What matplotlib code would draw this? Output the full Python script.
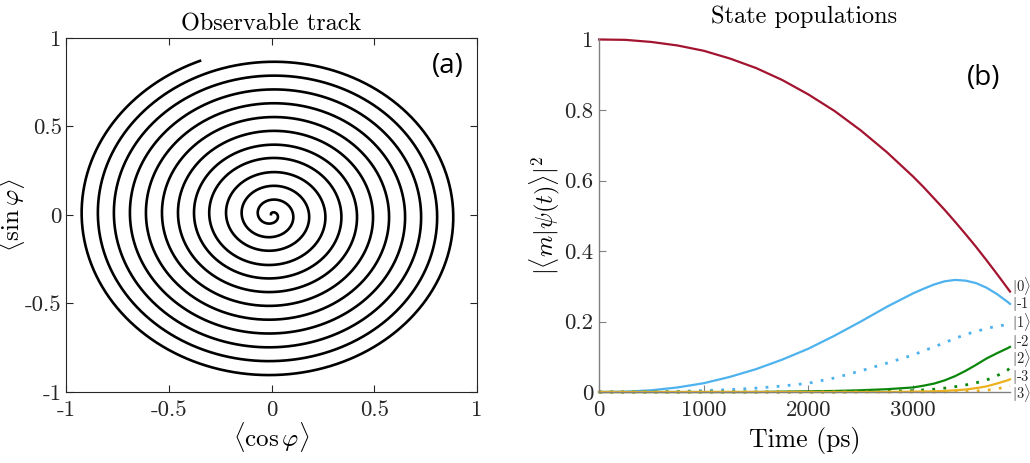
import numpy as np
import matplotlib
matplotlib.use('Agg')
import matplotlib.pyplot as plt

plt.rcParams['font.family'] = 'serif'
plt.rcParams['font.serif'] = ['cmr10']
plt.rcParams['mathtext.fontset'] = 'cm'
plt.rcParams['axes.unicode_minus'] = False
plt.rcParams['axes.formatter.use_mathtext'] = True

# (a) observable track: radius where the spiral crosses the negative x axis, one per turn
spiral_left_r = [0.066, 0.145, 0.221, 0.303, 0.377, 0.455, 0.533, 0.611, 0.689, 0.767, 0.845, 0.924]
spiral_start_r = 0.005
spiral_end_xy = (-0.348, 0.870)

# (b) state populations
time_ps = [0, 250, 500, 750, 1000, 1250, 1500, 1750, 2000, 2250, 2500, 2750, 3000,
           3100, 3200, 3300, 3400, 3500, 3600, 3700, 3800, 3900, 3925]
pop_0 = [1.0, 0.999, 0.993, 0.983, 0.968, 0.946, 0.919, 0.885, 0.844, 0.797, 0.742, 0.680, 0.611,
         0.581, 0.549, 0.517, 0.483, 0.448, 0.412, 0.374, 0.335, 0.295, 0.285]
pop_m1 = [0, 0.001, 0.005, 0.013, 0.025, 0.043, 0.065, 0.092, 0.123, 0.160, 0.200, 0.242, 0.280,
          0.293, 0.305, 0.314, 0.318, 0.316, 0.309, 0.296, 0.278, 0.256, 0.250]
pop_p1 = [0, 0, 0.001, 0.002, 0.004, 0.007, 0.011, 0.017, 0.025, 0.040, 0.060, 0.082, 0.105,
          0.117, 0.128, 0.140, 0.152, 0.163, 0.172, 0.180, 0.187, 0.191, 0.192]
pop_m2 = [0, 0, 0, 0, 0, 0, 0, 0.001, 0.002, 0.003, 0.005, 0.008, 0.013,
          0.018, 0.024, 0.033, 0.045, 0.060, 0.077, 0.095, 0.110, 0.124, 0.128]
pop_p2 = [0, 0, 0, 0, 0, 0, 0, 0, 0, 0, 0.001, 0.002, 0.004,
          0.006, 0.008, 0.011, 0.015, 0.020, 0.026, 0.034, 0.046, 0.062, 0.068]
pop_m3 = [0, 0, 0, 0, 0, 0, 0, 0, 0, 0, 0, 0, 0.001,
          0.0015, 0.002, 0.003, 0.005, 0.007, 0.011, 0.016, 0.024, 0.033, 0.036]
pop_p3 = [0, 0, 0, 0, 0, 0, 0, 0, 0, 0, 0, 0, 0,
          0, 0, 0.0005, 0.001, 0.002, 0.003, 0.005, 0.009, 0.015, 0.017]

ket_labels = [r'$|0\rangle$', r'$|$-$1\rangle$', r'$|1\rangle$', r'$|$-$2\rangle$',
              r'$|2\rangle$', r'$|$-$3\rangle$', r'$|3\rangle$']
ket_y = [0.300, 0.253, 0.199, 0.145, 0.097, 0.045, -0.003]

red = '#A2142F'
blue = '#4DB2EE'
green = '#0A870A'
orange = '#EDB120'

fig = plt.figure(figsize=(10.3, 4.63), dpi=100)

# ---- (a) spiral
ax1 = fig.add_axes([0.0641, 0.1533, 0.399, 0.765])
turn_r = np.array(spiral_left_r)
end_r = np.hypot(*spiral_end_xy)
end_theta = np.degrees(np.arctan2(spiral_end_xy[1], spiral_end_xy[0]))
knot_a = np.concatenate([[-300.0], 360.0 * np.arange(len(turn_r)),
                         [360.0 * (len(turn_r) - 1) + (180 - end_theta)]])
knot_r = np.concatenate([[spiral_start_r], turn_r, [end_r]])
a = np.linspace(knot_a[0], knot_a[-1], 6000)
r = np.interp(a, knot_a, knot_r)
theta = np.radians(180 - a)
ax1.plot(r * np.cos(theta), r * np.sin(theta), color='black', lw=1.9)

ax1.set_xlim(-1, 1)
ax1.set_ylim(-1, 1)
ticks = [-1, -0.5, 0, 0.5, 1]
ticklab = ['-1', '-0.5', '0', '0.5', '1']
ax1.set_xticks(ticks)
ax1.set_xticklabels(ticklab)
ax1.set_yticks(ticks)
ax1.set_yticklabels(ticklab)
ax1.tick_params(direction='in', top=True, right=True, length=5, width=0.8,
                labelsize=16.5, colors='#262626')
ax1.tick_params(axis='x', pad=6)
ax1.tick_params(axis='y', pad=3)
for s in ax1.spines.values():
    s.set_color('#262626')
    s.set_linewidth(0.8)
ax1.set_xlabel(r'$\langle\cos\varphi\rangle$', fontsize=18, labelpad=0)
ax1.set_ylabel(r'$\langle\sin\varphi\rangle$', fontsize=18)
ax1.yaxis.set_label_coords(-0.095, 0.5)
ax1.set_title('Observable track', fontsize=17.5, pad=5)
ax1.text(0.93, 0.92, '(a)', transform=ax1.transAxes, family='Open Sans',
         fontsize=20, ha='center', va='center')

# ---- (b) populations
ax2 = fig.add_axes([0.5816, 0.1533, 0.399, 0.7614])
t = np.array(time_ps)
dots = (0, (1, 3))
ax2.plot(t, pop_0, color=red, lw=1.6, clip_on=False)
ax2.plot(t, pop_m1, color=blue, lw=1.6, clip_on=False)
ax2.plot(t, pop_p1, color=blue, lw=2.0, ls=dots, clip_on=False)
ax2.plot(t, pop_m2, color=green, lw=1.6, clip_on=False)
ax2.plot(t, pop_p2, color=green, lw=2.0, ls=dots, clip_on=False)
ax2.plot(t, pop_m3, color=orange, lw=1.6, clip_on=False)
ax2.plot(t, pop_p3, color=orange, lw=2.0, ls=dots, clip_on=False)

ax2.set_xlim(0, 3925)
ax2.set_ylim(0, 1)
ax2.set_xticks([0, 1000, 2000, 3000])
ax2.set_xticklabels(['0', '1000', '2000', '3000'])
ax2.set_yticks([0, 0.2, 0.4, 0.6, 0.8, 1])
ax2.set_yticklabels(['0', '0.2', '0.4', '0.6', '0.8', '1'])
ax2.spines['top'].set_visible(False)
ax2.spines['right'].set_visible(False)
for s in ('left', 'bottom'):
    ax2.spines[s].set_color('#808080')
    ax2.spines[s].set_linewidth(1.0)
ax2.tick_params(direction='in', length=5, width=0.8, color='#808080',
                labelsize=16.5, labelcolor='#262626')
ax2.tick_params(axis='x', pad=6)
ax2.tick_params(axis='y', pad=4)
ax2.set_xlabel('Time (ps)', fontsize=18.5, labelpad=5)
ax2.set_ylabel(r'$|\langle m|\psi(t)\rangle|^2$', fontsize=17.5)
ax2.yaxis.set_label_coords(-0.09, 0.5)
ax2.set_title('State populations', fontsize=17.5, pad=12)
ax2.text(0.935, 0.89, '(b)', transform=ax2.transAxes, family='Open Sans',
         fontsize=20, ha='center', va='center')
for lab, y in zip(ket_labels, ket_y):
    ax2.text(3940, y, lab, fontsize=10.5, ha='left', va='center', color='#262626')

fig.savefig('out.png', dpi=100)
